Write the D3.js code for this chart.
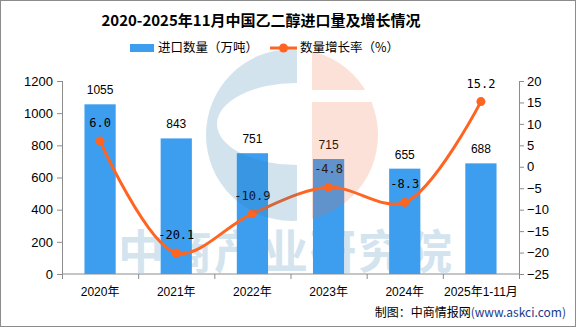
<!DOCTYPE html>
<html>
<head>
<meta charset="utf-8">
<script src="https://cdn.jsdelivr.net/npm/d3@7"></script>
<style>
  body { margin: 0; background: #fff; }
  svg { display: block; font-family: "Liberation Sans", "Noto Sans CJK SC", sans-serif; }
</style>
</head>
<body>
<div id="chart"></div>
<script>
var years = ["2020年", "2021年", "2022年", "2023年", "2024年", "2025年1-11月"];
var importVolume = [1055, 843, 751, 715, 655, 688];
var growthRate = [6.0, -20.1, -10.9, -4.8, -8.3, 15.2];
var leftTicks = [0, 200, 400, 600, 800, 1000, 1200];
var rightTicks = [-25, -20, -15, -10, -5, 0, 5, 10, 15, 20];

var svgWidth = 576;
var svgHeight = 327;

var margin = {
  top: 81,
  right: 57,
  bottom: 53,
  left: 62
};

var width = svgWidth - margin.left - margin.right;
var height = svgHeight - margin.top - margin.bottom;

var svg = d3.select("#chart")
  .append("svg")
  .attr("width", svgWidth)
  .attr("height", svgHeight);

// outer frame
svg.append("rect")
  .attr("x", 0.5).attr("y", 0.5)
  .attr("width", svgWidth - 1).attr("height", svgHeight - 1)
  .attr("fill", "#fff")
  .attr("stroke", "#8c8c8c");

// watermark text (sits under the bars)
svg.append("text")
  .attr("x", 286).attr("y", 268)
  .attr("text-anchor", "middle")
  .style("font-family", "'Noto Sans CJK SC'")
  .style("font-weight", "bold")
  .style("font-size", "46px")
  .style("letter-spacing", "2px")
  .attr("fill", "#d3e4ef")
  .text("中商产业研究院");

var chartGroup = svg.append("g")
  .attr("transform", `translate(${margin.left}, ${margin.top})`);

var xBandScale = d3.scaleBand()
  .domain(years)
  .range([0, width])
  .paddingInner(0.59)
  .paddingOuter(0.295);

var xTickScale = d3.scaleBand().domain(years).range([0, width]);

var yLeftScale = d3.scaleLinear().domain([0, 1200]).range([height, 0]);
var yRightScale = d3.scaleLinear().domain([-25, 20]).range([height, 0]);

// bars
chartGroup.selectAll(".bar")
  .data(importVolume)
  .enter()
  .append("rect")
  .attr("class", "bar")
  .attr("x", (d, i) => xBandScale(years[i]))
  .attr("y", d => yLeftScale(d))
  .attr("width", xBandScale.bandwidth())
  .attr("height", d => height - yLeftScale(d))
  .attr("fill", "#3d9ef0");

// axes
var axisColor = "#8c8c8c";

var bottomAxis = chartGroup.append("g")
  .attr("transform", `translate(0, ${height})`);
bottomAxis.append("line")
  .attr("x1", 0).attr("x2", width)
  .attr("stroke", axisColor);
bottomAxis.selectAll(".tk")
  .data(d3.range(years.length + 1))
  .enter()
  .append("line")
  .attr("x1", i => i * xTickScale.step() + 0.5)
  .attr("x2", i => i * xTickScale.step() + 0.5)
  .attr("y1", 0).attr("y2", 5)
  .attr("stroke", axisColor);
bottomAxis.selectAll(".lbl")
  .data(years)
  .enter()
  .append("text")
  .attr("x", d => xTickScale(d) + xTickScale.bandwidth() / 2)
  .attr("y", 22)
  .attr("text-anchor", "middle")
  .style("font-size", "12px")
  .attr("fill", "#000")
  .text(d => d);

var leftAxis = chartGroup.append("g")
  .call(d3.axisLeft(yLeftScale).tickValues(leftTicks).tickSize(5).tickPadding(4)
    .tickFormat(d3.format("d")));
var rightAxis = chartGroup.append("g")
  .attr("transform", `translate(${width}, 0)`)
  .call(d3.axisRight(yRightScale).tickValues(rightTicks).tickSize(5).tickPadding(3)
    .tickFormat(d => d < 0 ? "\u2212" + Math.abs(d) : d));

[leftAxis, rightAxis].forEach(function (ax) {
  ax.select(".domain").remove();
  ax.append("line")
    .attr("x1", 0.5).attr("x2", 0.5)
    .attr("y1", 0).attr("y2", height + 5)
    .attr("stroke", axisColor);
  ax.selectAll(".tick line").attr("stroke", axisColor);
  ax.selectAll(".tick text")
    .style("font-size", "13px")
    .style("font-family", "'Liberation Sans'")
    .attr("fill", "#000");
});

// bar value labels
chartGroup.selectAll(".barLabel")
  .data(importVolume)
  .enter()
  .append("text")
  .attr("x", (d, i) => xBandScale(years[i]) + xBandScale.bandwidth() / 2)
  .attr("y", d => yLeftScale(d) - 10)
  .attr("text-anchor", "middle")
  .style("font-size", "12px")
  .attr("fill", "#000")
  .text(d => d);

// growth line
var cx = (d, i) => xBandScale(years[i]) + xBandScale.bandwidth() / 2;
var line = d3.line()
  .x(cx)
  .y(d => yRightScale(d))
  .curve(d3.curveCatmullRom.alpha(0.5));

chartGroup.append("path")
  .datum(growthRate)
  .attr("d", line)
  .attr("fill", "none")
  .attr("stroke", "#ff6421")
  .attr("stroke-width", 3);

chartGroup.selectAll(".dot")
  .data(growthRate)
  .enter()
  .append("circle")
  .attr("cx", cx)
  .attr("cy", d => yRightScale(d))
  .attr("r", 4.5)
  .attr("fill", "#ff6421");

chartGroup.selectAll(".rateLabel")
  .data(growthRate)
  .enter()
  .append("text")
  .attr("x", cx)
  .attr("y", d => yRightScale(d) - 14)
  .attr("text-anchor", "middle")
  .style("font-size", "12px")
  .style("font-family", "'DejaVu Sans Mono'")
  .attr("fill", "#000")
  .text(d => d.toFixed(1));

// watermark logo, laid over the plot
var defs = svg.append("defs");
defs.append("clipPath").attr("id", "clipLeft")
  .append("rect").attr("x", 0).attr("y", 0).attr("width", 297).attr("height", 274);
var clipRight = defs.append("clipPath").attr("id", "clipRight");
clipRight.append("rect").attr("x", 312).attr("y", 0).attr("width", 100).attr("height", 90);
clipRight.append("rect").attr("x", 312).attr("y", 102).attr("width", 100).attr("height", 172);

var logo = svg.append("g").attr("opacity", 0.2);
var outer = d3.path();
outer.arc(292, 135, 86, 0, Math.PI * 2);
logo.append("path")
  .attr("clip-path", "url(#clipLeft)")
  .attr("fill-rule", "evenodd")
  .attr("fill", "#2a7ab0")
  .attr("d", outer.toString() +
    " M377,124 A80,41 0 1,0 217,124 A80,41 0 1,0 377,124 Z");
logo.append("circle")
  .attr("clip-path", "url(#clipRight)")
  .attr("cx", 292).attr("cy", 135).attr("r", 86)
  .attr("fill", "#ee6c3c");

// title
svg.append("text")
  .attr("x", 261).attr("y", 26)
  .attr("text-anchor", "middle")
  .style("font-family", "'Noto Sans CJK SC'")
  .style("font-weight", "bold")
  .style("font-size", "15px")
  .attr("fill", "#000")
  .text("2020-2025年11月中国乙二醇进口量及增长情况");

// legend
var legend = svg.append("g");
legend.append("rect")
  .attr("x", 130).attr("y", 44).attr("width", 24).attr("height", 8)
  .attr("fill", "#3d9ef0");
legend.append("text")
  .attr("x", 158).attr("y", 52)
  .style("font-family", "'Noto Sans CJK SC'")
  .style("font-size", "12.5px")
  .text("进口数量（万吨）");
legend.append("line")
  .attr("x1", 270).attr("x2", 297).attr("y1", 48).attr("y2", 48)
  .attr("stroke", "#ff6421").attr("stroke-width", 3);
legend.append("circle")
  .attr("cx", 283.5).attr("cy", 48).attr("r", 4.5)
  .attr("fill", "#ff6421");
legend.append("text")
  .attr("x", 300).attr("y", 52)
  .style("font-family", "'Noto Sans CJK SC'")
  .style("font-size", "12.5px")
  .text("数量增长率（%）");

// source
var source = svg.append("text")
  .attr("x", 566).attr("y", 317)
  .attr("text-anchor", "end")
  .style("font-family", "'Noto Sans CJK SC'")
  .style("font-size", "12px");
source.append("tspan").attr("fill", "#000").text("制图：中商情报网");
source.append("tspan").attr("fill", "#1a3a8c").text("(www.askci.com)");
</script>
</body>
</html>
